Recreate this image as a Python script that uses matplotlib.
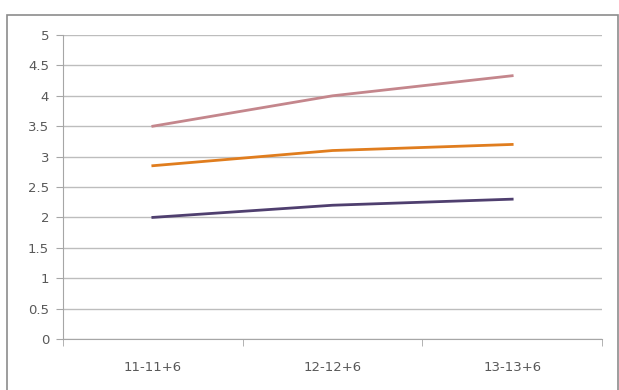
import matplotlib
matplotlib.use("Agg")
import matplotlib.pyplot as plt
from matplotlib.patches import Rectangle
import numpy as np

categories = ["11-11+6", "12-12+6", "13-13+6"]
pink_vals = [3.5, 4.0, 4.33]
orange_vals = [2.85, 3.1, 3.2]
purple_vals = [2.0, 2.2, 2.3]

fig = plt.figure(figsize=(6.19, 3.90), dpi=100)
ax = fig.add_axes([63 / 619, 1 - 339 / 390, (602 - 63) / 619, (339 - 35) / 390])

# outer chart border
fig.patches.append(Rectangle((7 / 619, -0.01), (618 - 7) / 619, 1 - 15 / 390 + 0.01,
                             transform=fig.transFigure, fill=False,
                             edgecolor="#8c8c8c", linewidth=1.2))

x = np.arange(len(categories))
ax.plot(x, pink_vals, color="#c4868c", linewidth=2)
ax.plot(x, orange_vals, color="#e07d1e", linewidth=2)
ax.plot(x, purple_vals, color="#4f3f6f", linewidth=2)

ax.set_xlim(-0.5, len(categories) - 0.5)
ax.set_ylim(0, 5)
ax.set_yticks(np.arange(0, 5.01, 0.5))
ax.set_yticklabels(["0", "0.5", "1", "1.5", "2", "2.5", "3", "3.5", "4", "4.5", "5"])
ax.set_xticks(x)
ax.set_xticklabels(categories)
ax.set_xticks(np.arange(-0.5, len(categories), 1), minor=True)

ax.grid(axis="y", color="#bdbdbd", linewidth=1)
ax.set_axisbelow(True)
for s in ["top", "right"]:
    ax.spines[s].set_visible(False)
for s in ["left", "bottom"]:
    ax.spines[s].set_color("#a6a6a6")
ax.tick_params(axis="y", colors="#a6a6a6", labelcolor="#595959", length=5, labelsize=9.5, pad=5)
ax.tick_params(axis="x", which="major", length=0, labelcolor="#595959", labelsize=9.5, pad=16)
ax.tick_params(axis="x", which="minor", colors="#a6a6a6", length=5)

fig.savefig("out.png", dpi=100)
